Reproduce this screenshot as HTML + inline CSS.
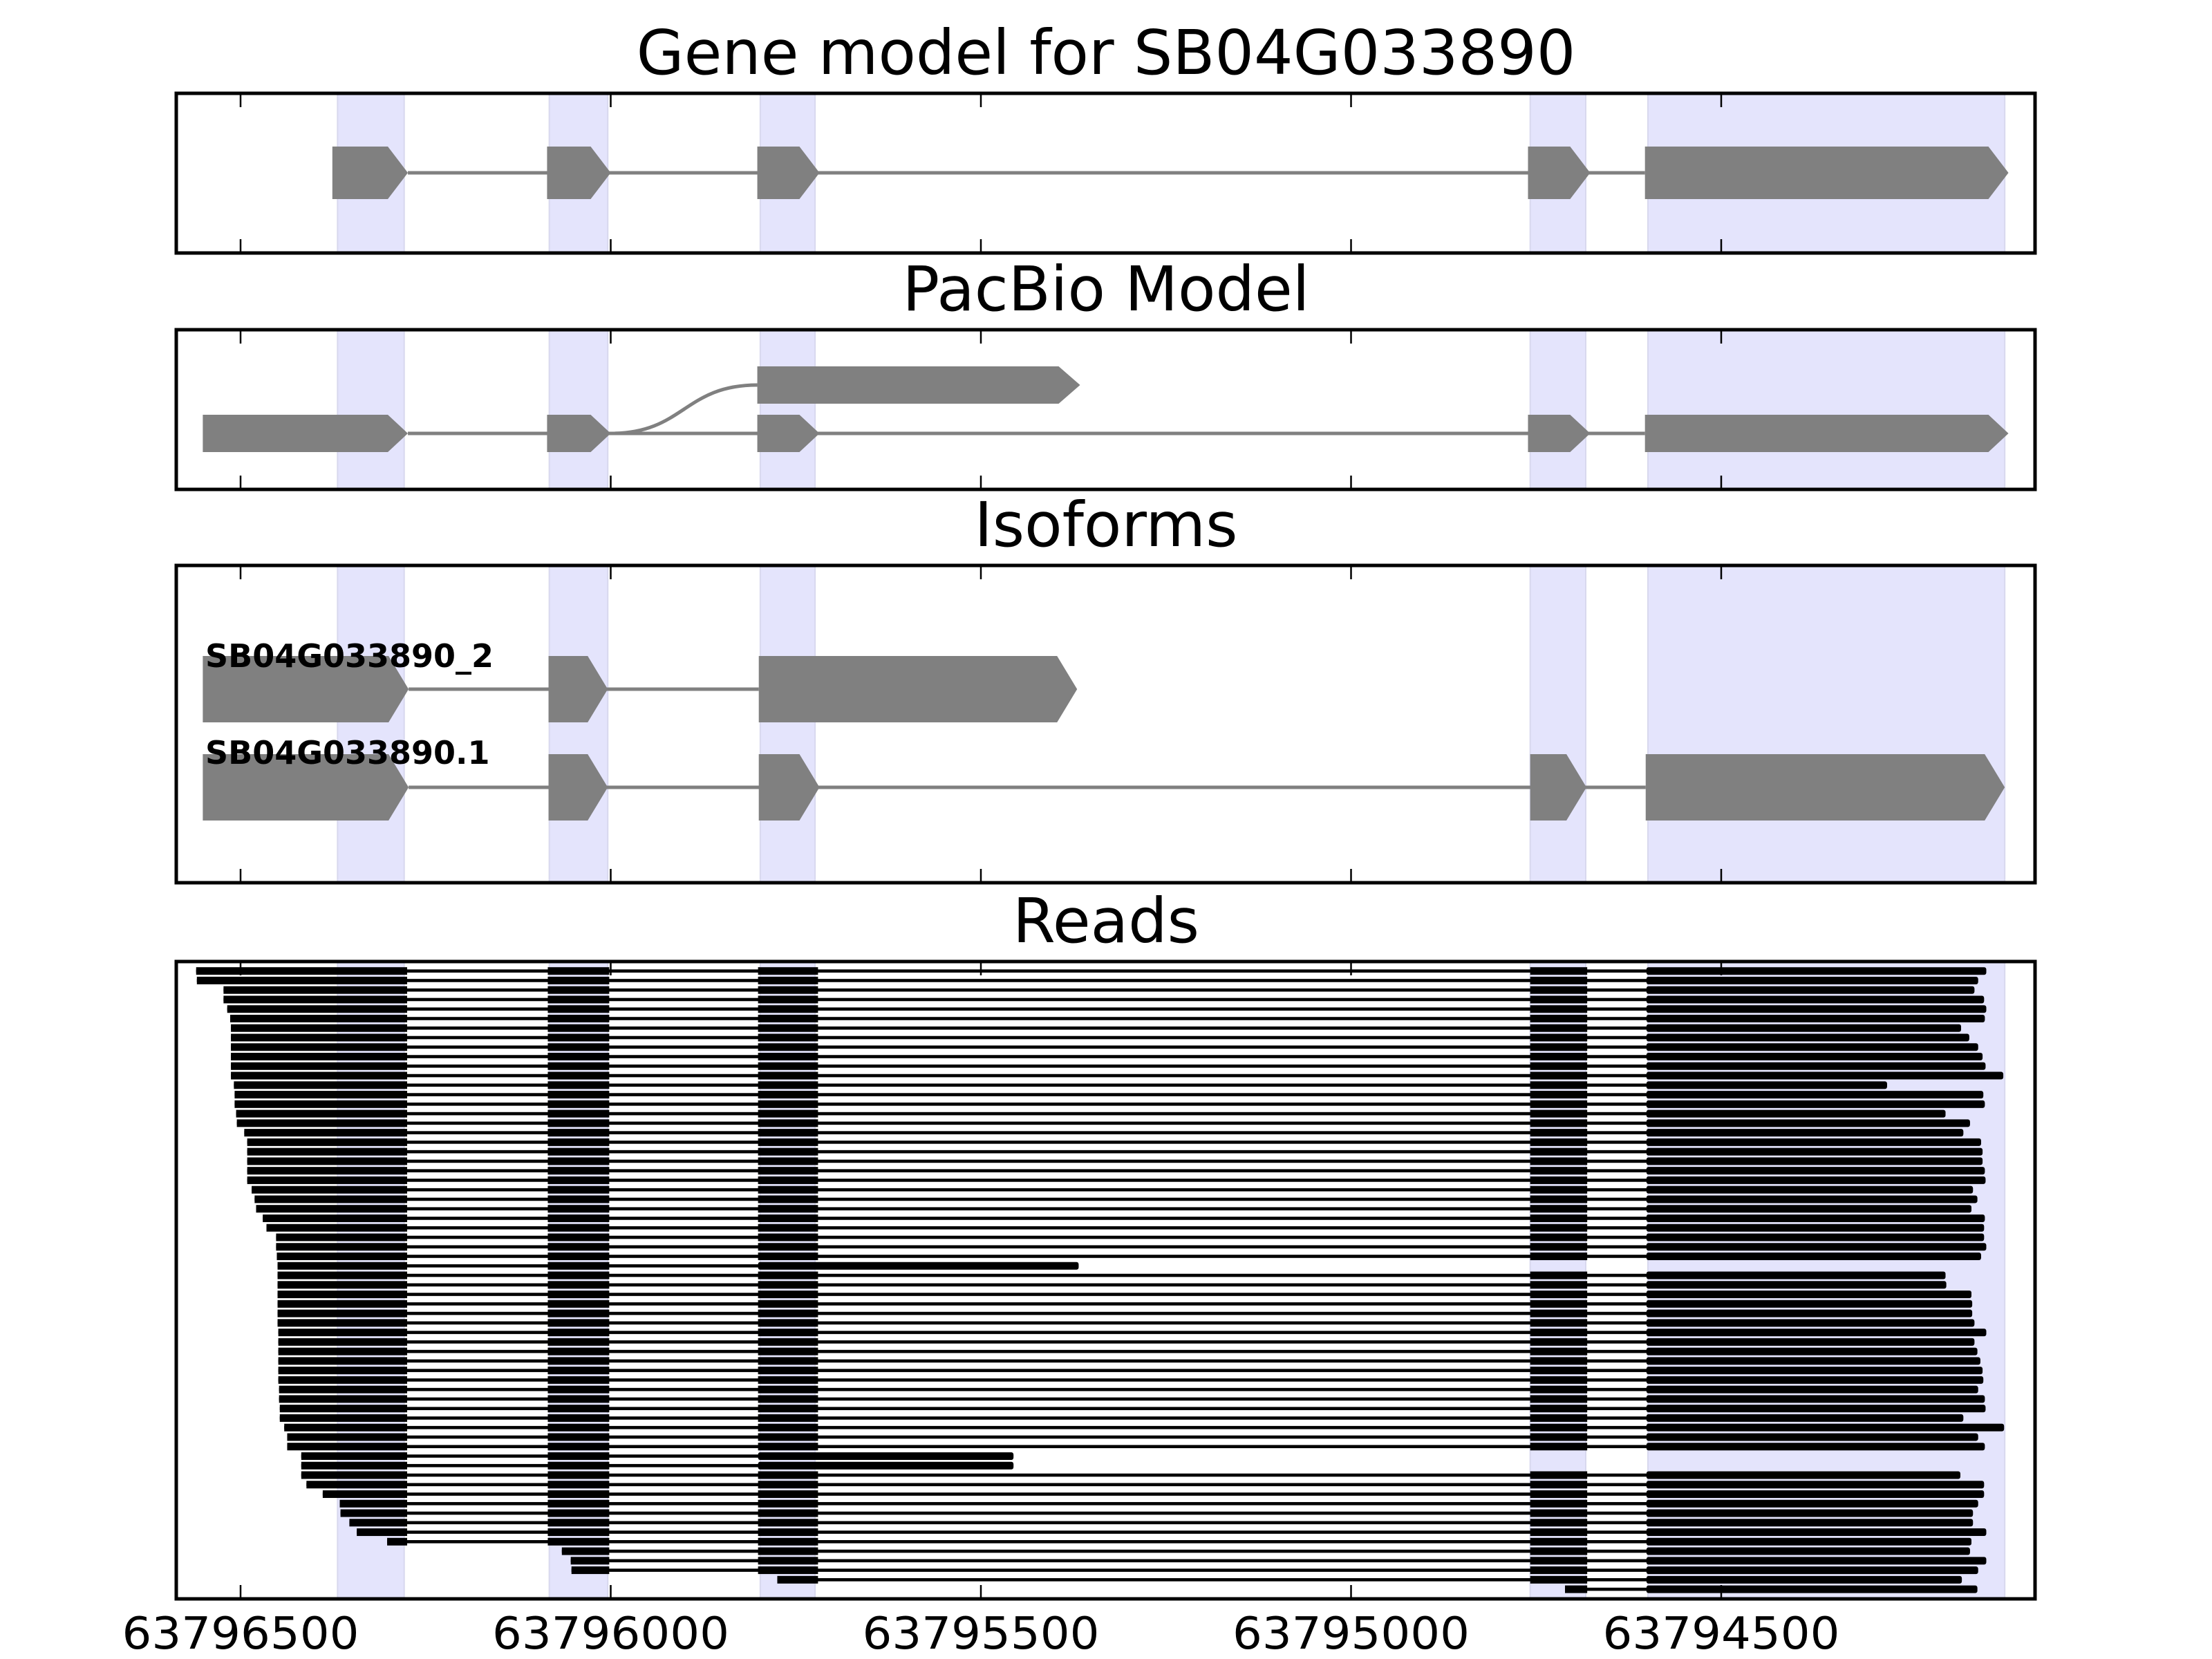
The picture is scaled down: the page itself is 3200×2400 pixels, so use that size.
<!DOCTYPE html>
<html><head><meta charset="utf-8"><title>Gene model for SB04G033890</title>
<style>html,body{margin:0;padding:0;background:#fff}svg{display:block}</style></head>
<body>
<svg id="chart" xmlns="http://www.w3.org/2000/svg" width="3200" height="2400" viewBox="0 0 3200 2400" font-family="'DejaVu Sans','Liberation Sans',sans-serif"></svg>
<script>
// ---- data ----
const tickValues = [63796500, 63796000, 63795500, 63795000, 63794500];
const tickLabels = ["63796500", "63796000", "63795500", "63795000", "63794500"];
const exonShadeStart = [63796369, 63796083, 63795798, 63794758, 63794599];
const exonShadeEnd   = [63796279, 63796004, 63795724, 63794683, 63794117];
// gene model blocks (start -> arrow tip end)
const geneStart = [63796376, 63796086, 63795802, 63794761, 63794603];
const geneEnd   = [63796274, 63796000, 63795718, 63794677, 63794112];
// PacBio model lower track and upper alternative block
const pacStart = [63796551, 63796086, 63795802, 63794761, 63794603];
const pacEnd   = [63796274, 63796000, 63795718, 63794677, 63794112];
const pacAltStart = 63795802, pacAltEnd = 63795366;
// isoforms
const isoNames = ["SB04G033890_2", "SB04G033890.1"];
const iso2Start = [63796551, 63796084, 63795800];
const iso2End   = [63796273, 63796004, 63795370];
const iso1Start = [63796551, 63796084, 63795800, 63794758, 63794602];
const iso1End   = [63796273, 63796004, 63795718, 63794682, 63794117];
// read exon blocks
const readExonStart = [63796700, 63796085, 63795801, 63794758, 63794601];
const readExonEnd   = [63796275, 63796002, 63795720, 63794681, 63793900];
// reads (top to bottom)
const readStart = [63796560,63796559,63796523,63796523,63796518,63796514,63796513,63796513,63796513,63796513,63796513,63796513,63796509,63796508,63796508,63796506,63796505,63796495,63796491,63796491,63796491,63796491,63796491,63796485,63796481,63796479,63796470,63796465,63796452,63796452,63796451,63796450,63796450,63796450,63796450,63796450,63796450,63796450,63796449,63796449,63796449,63796449,63796449,63796449,63796448,63796448,63796447,63796447,63796441,63796437,63796437,63796418,63796418,63796418,63796411,63796389,63796366,63796365,63796353,63796343,63796302,63796066,63796054,63796053,63795775,63794711];
const readEnd = [63794142,63794153,63794158,63794145,63794142,63794144,63794176,63794165,63794153,63794147,63794143,63794119,63794276,63794146,63794144,63794197,63794164,63794173,63794149,63794147,63794147,63794144,63794143,63794160,63794154,63794162,63794144,63794145,63794145,63794142,63794149,63795368,63794197,63794196,63794162,63794161,63794161,63794158,63794142,63794158,63794154,63794150,63794147,63794146,63794153,63794144,63794143,63794173,63794118,63794153,63794144,63795456,63795456,63794177,63794145,63794145,63794153,63794160,63794160,63794142,63794162,63794164,63794142,63794153,63794175,63794154];
// 1 = read follows isoform _2 (extended exon 3)
const readAlt = readEnd.map(v => v > 63795000 ? 1 : 0);

// ---- layout ----
const NS = "http://www.w3.org/2000/svg";
const svg = document.getElementById('chart');
const L = 255, R = 2944;
function x(p){ return 348 + (63796500 - p) * 1.071; }
function mk(tag, attrs, parent){ const e = document.createElementNS(NS, tag); for (const k in attrs) e.setAttribute(k, attrs[k]); (parent||svg).appendChild(e); return e; }
const GRAY = "#808080";

const panels = [
  {name:"gene-model-panel", title:"Gene model for SB04G033890", top:135, bot:366},
  {name:"pacbio-model-panel", title:"PacBio Model", top:477, bot:708},
  {name:"isoforms-panel", title:"Isoforms", top:818, bot:1277},
  {name:"reads-panel", title:"Reads", top:1391, bot:2313}
];
const groups = panels.map(p => {
  const g = mk('g', {});
  
  
  const t = mk('text', {x:1600, y:p.top-28, 'text-anchor':'middle', 'font-size':89, fill:'#000'}, g);
  t.textContent = p.title;
  
  
  for (let i = 0; i < exonShadeStart.length; i++) {
    const r = mk('rect', {x:x(exonShadeStart[i]), y:p.top, width:x(exonShadeEnd[i])-x(exonShadeStart[i]), height:p.bot-p.top, fill:'#e4e4fc', stroke:'#d8d8ee', 'stroke-width':2}, g);
    
    
  }
  return g;
});

function arrowBlock(g, s, e, cy, h, tip, name){
  const x0 = x(s), x1 = x(e), xt = Math.max(x0, x1 - tip);
  const pth = mk('polygon', {points:`${x0},${cy-h/2} ${xt},${cy-h/2} ${x1},${cy} ${xt},${cy+h/2} ${x0},${cy+h/2}`, fill:GRAY}, g);
  
  
}
function intronLine(g, s, e, cy, name){
  const l = mk('line', {x1:x(s), x2:x(e), y1:cy, y2:cy, stroke:GRAY, 'stroke-width':5}, g);
  
  
}

// panel 1: gene model
{
  const g = groups[0], cy = 250;
  intronLine(g, geneEnd[0], geneStart[geneStart.length-1], cy, 'gene-intron-line');
  for (let i = 0; i < geneStart.length; i++) arrowBlock(g, geneStart[i], geneEnd[i], cy, 76, 29, 'gene-exon-' + (i+1));
}
// panel 2: PacBio
{
  const g = groups[1], cy = 627, cyU = 557;
  intronLine(g, pacEnd[0], pacStart[pacStart.length-1], cy, 'pacbio-intron-line');
  const xa = x(pacEnd[1]), xb = x(pacAltStart), mid = (xa + xb) / 2;
  const c = mk('path', {d:`M${xa},${cy} C${mid},${cy} ${mid},${cyU} ${xb},${cyU}`, fill:'none', stroke:GRAY, 'stroke-width':5}, g);
  
  
  for (let i = 0; i < pacStart.length; i++) arrowBlock(g, pacStart[i], pacEnd[i], cy, 54, 29, 'pacbio-exon-' + (i+1));
  arrowBlock(g, pacAltStart, pacAltEnd, cyU, 54, 31, 'pacbio-alt-exon');
}
// panel 3: isoforms
{
  const g = groups[2];
  const tracks = [[iso2Start, iso2End, 997, 965], [iso1Start, iso1End, 1139, 1105]];
  tracks.forEach((tr, k) => {
    const [ss, ee, cy, by] = tr;
    intronLine(g, ee[0], ss[ss.length-1], cy, 'isoform-' + (k+1) + '-intron-line');
    for (let i = 0; i < ss.length; i++) arrowBlock(g, ss[i], ee[i], cy, 96, 29, 'isoform-' + (k+1) + '-exon-' + (i+1));
    const t = mk('text', {x:297, y:by, 'font-size':46, 'font-weight':'bold', fill:'#000'}, g);
    t.textContent = isoNames[k];
    
    
  });
}
// panel 4: reads
{
  const g = groups[3];
  for (let r = 0; r < readStart.length; r++) {
    const cy = 1404.7 + 13.76 * r;
    const xs = x(readStart[r]), xe = x(readEnd[r]);
    const rg = mk('g', {}, g);
    
    
    const ln = mk('rect', {x:xs, y:cy-2.3, width:xe-xs, height:4.6, fill:'#000'}, rg);
    
    
    const es = readExonStart.slice(), ee = readExonEnd.slice();
    if (readAlt[r]) { es.length = 3; ee.length = 3; ee[2] = readEnd[r]; }
    for (let i = 0; i < es.length; i++) {
      const a = Math.max(xs, x(es[i])), b = Math.min(xe, x(ee[i]));
      if (b > a) {
        const bl = mk('rect', {x:a, y:cy-5.5, width:b-a, height:11, fill:'#000', rx: (b === xe ? 3 : 0)}, rg);
        
        
      }
    }
  }
}
// borders + ticks
panels.forEach((p, k) => {
  const g = groups[k];
  const b = mk('rect', {x:L, y:p.top, width:R-L, height:p.bot-p.top, fill:'none', stroke:'#000', 'stroke-width':5}, g);
  
  
  tickValues.forEach(v => {
    const tx = x(v);
    const t1 = mk('line', {x1:tx, x2:tx, y1:p.top, y2:p.top+20, stroke:'#000', 'stroke-width':2.5}, g);
    
    
    const t2 = mk('line', {x1:tx, x2:tx, y1:p.bot, y2:p.bot-20, stroke:'#000', 'stroke-width':2.5}, g);
    
    
  });
});
// x-axis labels
tickValues.forEach((v, i) => {
  const t = mk('text', {x:x(v), y:2385, 'text-anchor':'middle', 'font-size':64, textLength:343, lengthAdjust:'spacingAndGlyphs', fill:'#000'});
  t.textContent = tickLabels[i];
  
  
});
</script>
</body></html>
